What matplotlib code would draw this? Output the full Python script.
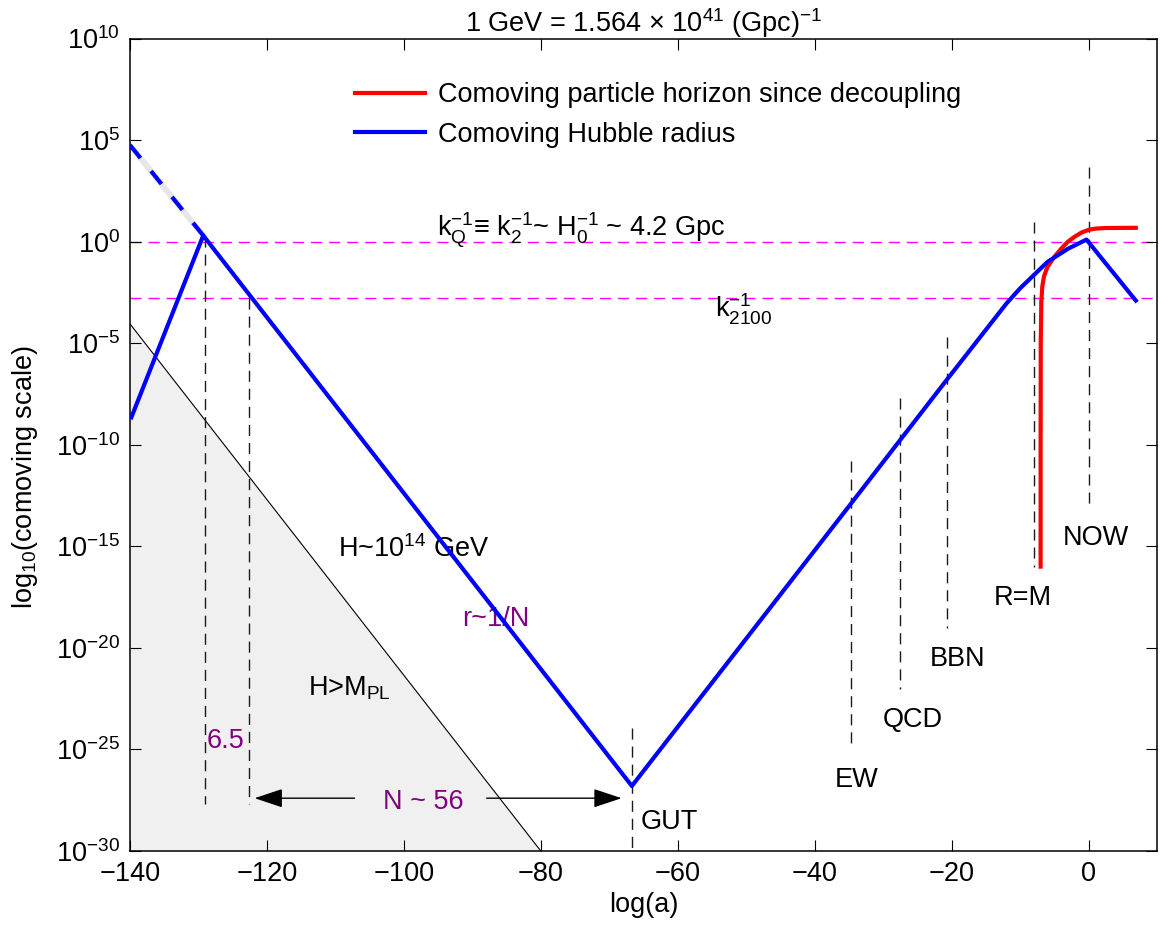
import matplotlib
matplotlib.use('Agg')
import matplotlib.pyplot as plt
import numpy as np

plt.rcParams['font.family'] = ['Liberation Sans', 'DejaVu Sans']
plt.rcParams['mathtext.fontset'] = 'custom'
plt.rcParams['mathtext.rm'] = 'Liberation Sans'
plt.rcParams['mathtext.it'] = 'Liberation Sans'

# Comoving Hubble radius (x = log(a), y = log10 of comoving scale)
hubble_x = [-139.8, -129.3, -66.7, -34.7, -20.7, -12.0, -10.0, -8.0, -6.0, -3.0, -0.3, 6.9]
hubble_y = [-8.65, 0.3, -26.8, -12.9, -6.8, -3.05, -2.3, -1.65, -1.0, -0.35, 0.1, -2.9]

# dashed continuation of the inflationary branch
early_x = [-140.0, -129.3]
early_y = [4.75, 0.3]

# Comoving particle horizon since decoupling
horizon_x = [-7.0, -7.0, -6.98, -6.9, -6.75, -6.5, -6.0, -5.0, -4.0, -3.0, -2.0, -1.0, 0.0, 1.0, 2.5, 6.9]
horizon_y = [-16.0, -10.0, -5.0, -3.0, -2.2, -1.7, -1.25, -0.75, -0.35, 0.0, 0.25, 0.45, 0.58, 0.64, 0.67, 0.68]

# H > M_PL boundary
planck_x = [-140.0, -80.0]
planck_y = [-4.05, -30.0]

# horizontal scales: k_Q^-1 = k_2^-1 ~ H_0^-1 and k_2100^-1
scale_lines = [0.0, -2.78]

# vertical markers: x, top, bottom (log10)
mark_x = [-129.05, -122.6, -66.7, -34.7, -27.6, -20.7, -8.0, 0.0]
mark_top = [0.3, -2.78, -23.95, -10.8, -7.7, -4.7, 0.96, 3.67]
mark_bot = [-27.7, -27.7, -30.0, -25.0, -22.0, -19.0, -16.0, -13.0]

# epoch labels: text, x, baseline (log10)
epochs = ['GUT', 'EW', 'QCD', 'BBN', 'R=M', 'NOW']
epoch_x = [-65.4, -33.9, -25.7, -19.1, -9.6, 1.0]
epoch_y = [-28.9, -26.87, -23.9, -20.9, -17.9, -14.95]

fig = plt.figure(figsize=(11.69, 9.26), dpi=100)
ax = fig.add_axes([130 / 1169, 1 - 851 / 926, 1027 / 1169, 812.5 / 926])

fs = 19.5
purple = '#800080'

# gray H>M_PL region
px = np.array(planck_x)
py = 10.0 ** np.array(planck_y)
ax.fill_between(px, py, 1e-30, color='#f0f0f0', lw=0, zorder=0)
ax.plot(px, py, color='k', lw=0.8, zorder=1)

for v in scale_lines:
    ax.axhline(10.0 ** v, color='#ff00ff', lw=1, ls=(0, (8, 5)), zorder=1)

for x, t, b in zip(mark_x, mark_top, mark_bot):
    ax.plot([x, x], [10.0 ** t, 10.0 ** b], color='0.1', lw=1.0, ls=(0, (8, 5)), zorder=1)

ax.plot(early_x, 10.0 ** np.array(early_y), color='#e6e6e6', lw=4.2, zorder=2)
ax.plot(early_x, 10.0 ** np.array(early_y), color='b', lw=3, ls=(0, (4, 4)), zorder=3)

red, = ax.plot(horizon_x, 10.0 ** np.array(horizon_y), color='r', lw=3, zorder=4,
               label='Comoving particle horizon since decoupling')
blue, = ax.plot(hubble_x, 10.0 ** np.array(hubble_y), color='b', lw=3, zorder=5,
                label='Comoving Hubble radius')

for s, x, y in zip(epochs, epoch_x, epoch_y):
    ha = 'left' if s == 'GUT' else 'center'
    ax.text(x, 10.0 ** y, s, fontsize=fs, ha=ha, va='baseline')

ax.text(-109.6, 10.0 ** -15.55, r'H~$\mathregular{10^{14}}$ GeV', fontsize=fs, va='baseline')
ax.text(-91.5, 10.0 ** -18.9, 'r~1/N', fontsize=fs, color=purple, va='baseline')
ax.text(-114.0, 10.0 ** -22.35, r'H>$\mathregular{M_{PL}}$', fontsize=fs, va='baseline')
ax.text(-128.75, 10.0 ** -24.95, '6.5', fontsize=fs, color=purple, va='baseline')
ax.text(-97.2, 10.0 ** -27.95, 'N ~ 56', fontsize=fs, color=purple, ha='center', va='baseline')
ax.text(-95.2, 10.0 ** 0.27,
        r'$\mathregular{k_Q^{-1}}$≡ $\mathregular{k_2^{-1}}$~ $\mathregular{H_0^{-1}}$ ~ 4.2 Gpc',
        fontsize=fs, va='baseline')
ax.text(-54.5, 10.0 ** -3.72, r'$\mathregular{k_{2100}^{-1}}$', fontsize=fs, va='baseline')

# N ~ 56 arrows
arrow = dict(arrowstyle='-|>,head_length=0.9,head_width=0.3', color='k', lw=1,
             mutation_scale=fs, shrinkA=0, shrinkB=0)
ax.annotate('', xy=(-121.8, 10.0 ** -27.4), xytext=(-107.2, 10.0 ** -27.4), arrowprops=arrow)
ax.annotate('', xy=(-68.2, 10.0 ** -27.4), xytext=(-87.9, 10.0 ** -27.4), arrowprops=arrow)

ax.set_yscale('log')
ax.set_xlim(-140, 10)
ax.set_ylim(1e-30, 1e10)
xt = [-140, -120, -100, -80, -60, -40, -20, 0]
ax.set_xticks(xt)
ax.set_xticklabels(['\u2212' + str(-v) if v < 0 else str(v) for v in xt])
yt = [10, 5, 0, -5, -10, -15, -20, -25, -30]
ax.set_yticks([10.0 ** v for v in yt])
ax.set_yticklabels([r'$\mathregular{10^{%d}}$' % v for v in yt])
ax.minorticks_off()
ax.tick_params(direction='in', top=True, right=True, length=8, width=0.8,
               labelsize=fs, pad=7)
for sp in ax.spines.values():
    sp.set_linewidth(1.1)

ax.set_xlabel('log(a)', fontsize=fs, labelpad=4)
ax.set_ylabel(r'$\mathregular{log_{10}}$(comoving scale)', fontsize=fs)
ax.yaxis.set_label_coords(-0.088, 0.46)
ax.set_title(r'1 GeV = 1.564 $\mathregular{\times}$ $\mathregular{10^{41}}$ (Gpc)$\mathregular{^{-1}}$',
             fontsize=19.5, pad=5)

ax.legend(handles=[red, blue], loc='upper left', bbox_to_anchor=((355 - 130) / 1027, 0.946),
          frameon=False, fontsize=fs, borderpad=0, borderaxespad=0, handlelength=2.6,
          handletextpad=0.48, labelspacing=0.49)

fig.savefig('out.png', dpi=100)
